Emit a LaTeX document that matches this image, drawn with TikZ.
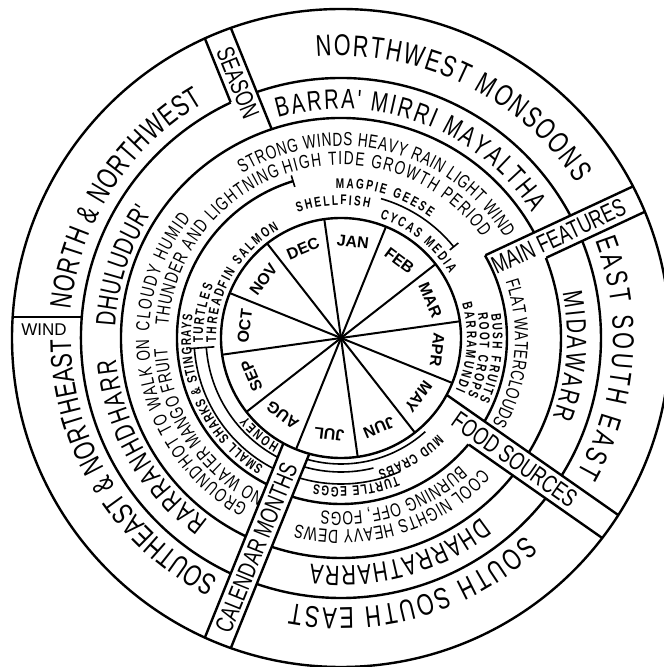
\documentclass[tikz,border=0pt]{standalone}
\usepackage{fontspec}
\setmainfont{Liberation Sans}
\newfontfamily\narrow{Liberation Sans}[FakeStretch=0.72]
\usetikzlibrary{calc,decorations.text}
\newcommand{\windfont}{\narrow\fontsize{30}{30}\selectfont}
\newcommand{\seasonfont}{\narrow\fontsize{28}{28}\selectfont}
\newcommand{\featfont}{\narrow\fontsize{19}{19}\selectfont}
\newcommand{\foodfont}{\narrow\bfseries\fontsize{14}{14}\selectfont}
% radius, start angle, end angle, font, text (read clockwise, tops outward)
\newcommand{\ringtext}[5]{\path[decorate,decoration={text along path,text align={fit to path,right indent=1.5pt},text={|#4|#5}}] (#2:#1) arc[start angle=#2,end angle=#3,radius=#1];}
% strip edge: direction, offset, from radius, to radius
\newcommand{\stripedge}[4]{\draw[ring] ($(#1:#3)+(#1+90:#2)$) -- ($(#1:#4)+(#1+90:#2)$);}

\begin{document}
\begin{tikzpicture}[x=1pt,y=1pt,
  ring/.style={line width=2.4pt},
  spoke/.style={line width=2pt},
  spanline/.style={line width=1.6pt},
  month/.style={font=\bfseries\fontsize{16}{16}\selectfont,inner sep=0pt},
  striplabel/.style={font=\narrow\fontsize{25}{25}\selectfont,inner sep=0pt}
]
\useasboundingbox (-341,-329) rectangle (323,338);
\clip (-341,-329) rectangle (323,338);

% circles and arcs
\draw[ring] (0,0) circle[radius=329];
\draw[ring] (0,0) circle[radius=120];
\draw[ring] (108.91:260) arc[start angle=108.91,end angle=28.09,radius=260];
\draw[ring] (21.91:260) arc[start angle=21.91,end angle=-31.91,radius=260];
\draw[ring] (-38.09:260) arc[start angle=-38.09,end angle=-108.91,radius=260];
\draw[ring] (244.91:260) arc[start angle=244.91,end angle=115.09,radius=260];
\draw[ring] (28.65:220) arc[start angle=28.65,end angle=244.35,radius=220];
\draw[ring] (21.35:220) arc[start angle=21.35,end angle=-31.35,radius=220];
\draw[ring] (-38.65:220) arc[start angle=-38.65,end angle=-108.35,radius=220];
\draw[ring] (29.85:166) arc[start angle=29.85,end angle=-30.15,radius=166];
\draw[ring] (-39.85:166) arc[start angle=-39.85,end angle=-107.15,radius=166];
\draw[ring] (243.15:164) arc[start angle=243.15,end angle=107,radius=164];
\draw[spanline] (107:158) -- (107:170);

% label strips
\stripedge{112}{-14}{220}{329}
\stripedge{112}{14}{260}{329}
\stripedge{25}{14}{166}{329}
\stripedge{25}{-14}{220}{329}
\stripedge{-35}{14}{120}{329}
\stripedge{-35}{-14}{166}{329}
\stripedge{-112}{14}{120}{329}
\stripedge{-112}{-14}{120}{329}
\draw[ring] (-259.2,21) -- (-328.3,21);

\node[striplabel,rotate=-68] (season) at (112:275) {SEASON};
\node[striplabel,rotate=25] (features) at (25:240) {MAIN FEATURES};
\node[striplabel,rotate=-35] (food) at (-35:212) {FOOD SOURCES};
\node[striplabel,rotate=68] (calendar) at (-112:226) {CALENDAR MONTHS};
\node[font=\fontsize{17}{17}\selectfont,inner sep=0pt] (wind) at (-297,8) {WIND};

% calendar months
\foreach \a in {8,38,...,338}
  \draw[spoke] (0,0) -- (\a:120);
\fill (0,0) circle[radius=3];
\foreach \m [count=\i] in {JAN,FEB,MAR,APR,MAY,JUN,JUL,AUG,SEP,OCT,NOV,DEC}
  \node[month,rotate={83-30*(\i-1)-90}] (m-\i) at ({83-30*(\i-1)}:97) {\m};

% wind
\ringtext{282}{95}{33}{\windfont}{NORTHWEST MONSOONS}
\ringtext{272}{21}{-30}{\windfont}{EAST SOUTH EAST}
\ringtext{270}{-47}{-101}{\windfont}{SOUTH SOUTH EAST}
\ringtext{270}{-117}{-180}{\windfont}{SOUTHEAST {\&} NORTHEAST}
\ringtext{272}{174}{120}{\windfont}{NORTH {\&} NORTHWEST}

% season
\ringtext{229}{106}{33}{\seasonfont}{BARRA' MIRRI MAYALTHA}
\ringtext{226}{11.5}{-21}{\seasonfont}{MIDAWARR}
\ringtext{228}{-52}{-98}{\seasonfont}{DHARRATHARRA}
\ringtext{226}{-126}{-175}{\seasonfont}{RARRANHDHARR}
\ringtext{226}{177}{146}{\seasonfont}{DHULUDUR'}

% main features
\ringtext{192}{178}{141}{\featfont}{CLOUDY HUMID}
\ringtext{173}{176}{110}{\featfont}{THUNDER AND LIGHTNING}
\ringtext{192}{121}{31}{\featfont}{STRONG WINDS HEAVY RAIN LIGHT WIND}
\ringtext{173}{109}{35}{\featfont}{HIGH TIDE GROWTH PERIOD}
\ringtext{174}{19}{-30}{\featfont}{FLAT WATERCLOUDS}
\ringtext{192}{-43}{-104}{\featfont}{COOL NIGHTS HEAVY DEWS}
\ringtext{174}{-47}{-97}{\featfont}{BURNING OFF, FOGS}
\ringtext{192}{-119}{-180}{\featfont}{GROUND'HOT TO WALK ON}
\ringtext{174}{-116}{-177}{\featfont}{NO WATER MANGO FRUIT}

% food sources
\ringtext{133}{109}{77}{\foodfont}{SHELLFISH}
\ringtext{150}{92}{53}{\foodfont}{MAGPIE GEESE}
\ringtext{126}{72}{30}{\foodfont}{CYCAS MEDIA}
\ringtext{126}{16}{-25}{\foodfont}{BARRAMUNDI}
\ringtext{139}{10}{-25}{\foodfont}{ROOT CROPS}
\ringtext{152}{9}{-25}{\foodfont}{BUSH FRUITS}
\ringtext{137}{-45}{-75}{\foodfont}{MUD CRABS}
\ringtext{149}{-68}{-101}{\foodfont}{TURTLE EGGS}
\ringtext{123}{-120}{-141}{\foodfont}{HONEY}
\ringtext{150}{-121}{-189.5}{\foodfont}{SMALL SHARKS {\&} STINGRAYS}
\ringtext{138}{-178}{-203}{\foodfont}{TURTLES}
\ringtext{125}{-178}{-241}{\foodfont}{THREADFIN SALMON}

% season spans of the food sources
\draw[spanline] (74:145) arc[start angle=74,end angle=39,radius=145];
\draw[spanline] (39:140) -- (39:151);
\draw[spanline] (-176:127) -- (-176:152);
\draw[spanline] (-176:147) arc[start angle=-176,end angle=-117.4,radius=147];
\draw[spanline] (-176:135) arc[start angle=-176,end angle=-118,radius=135];
\draw[spanline] (-105.6:126) arc[start angle=-105.6,end angle=-48,radius=126];
\draw[spanline] (-106:134) arc[start angle=-106,end angle=-76,radius=134];
\draw[spanline] (-106.5:146) arc[start angle=-106.5,end angle=-66,radius=146];
\end{tikzpicture}
\end{document}
